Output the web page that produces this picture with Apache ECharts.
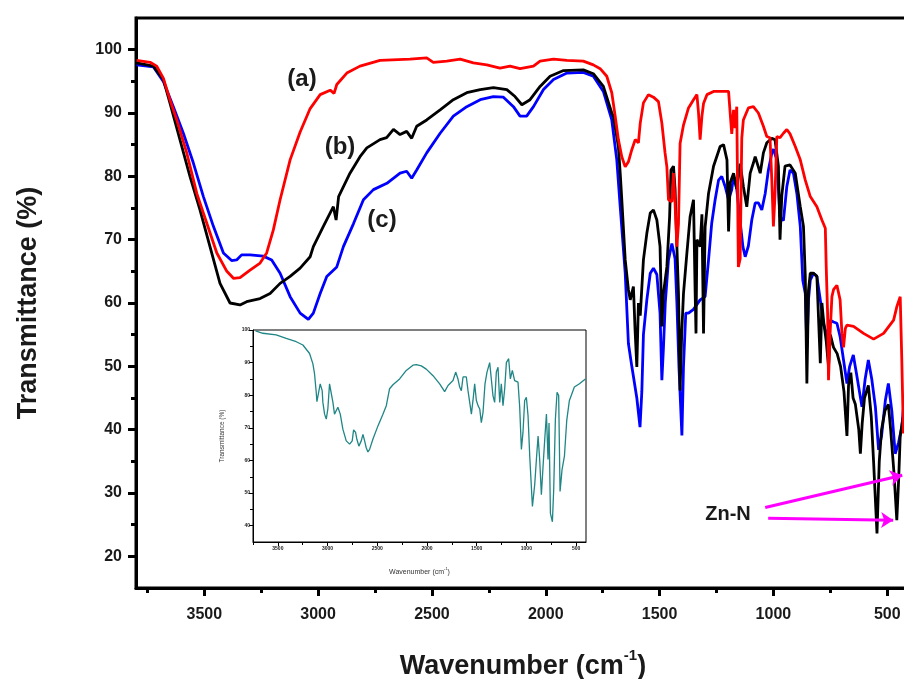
<!DOCTYPE html>
<html><head><meta charset="utf-8">
<script src="https://cdn.jsdelivr.net/npm/echarts@6/dist/echarts.min.js"></script>
<style>html,body{margin:0;padding:0;background:#fff}#c{width:904px;height:679px}</style>
</head><body><div id="c"></div><script>
const seriesA = [[3797,98.3],[3738,98],[3709,97.4],[3680,95.5],[3651,92.1],[3621,88.9],[3577,83.7],[3533,77.3],[3489,72.6],[3445,67.9],[3401,65],[3372,63.9],[3343,64],[3299,65.2],[3255,66.3],[3226,67.9],[3197,71.5],[3167,76.3],[3123,82.6],[3079,87],[3035,90.7],[2991,92.9],[2947,93.6],[2930,93.1],[2918,94.5],[2874,96.3],[2816,97.4],[2728,98.3],[2596,98.5],[2523,98.7],[2494,98],[2435,98.2],[2376,98.5],[2318,97.9],[2259,97.6],[2201,97.1],[2157,97.4],[2113,97],[2054,97.4],[2025,98.2],[1966,98.5],[1907,98.3],[1835,98.2],[1791,97.6],[1761,97],[1732,95.8],[1710,93.2],[1695,89.5],[1681,85.8],[1666,83.1],[1651,81.5],[1637,82.3],[1622,84.2],[1607,85.8],[1593,85.3],[1585,88.4],[1571,91.6],[1549,92.9],[1527,92.5],[1505,91.8],[1490,88.4],[1476,83.7],[1468,81.5],[1461,76.3],[1446,76],[1439,80.5],[1432,75.8],[1424,68.9],[1417,72.5],[1410,85.2],[1395,88.1],[1373,90.8],[1351,92.1],[1336,92.9],[1329,90],[1322,85.8],[1314,89.5],[1307,91.5],[1292,92.9],[1263,93.4],[1197,93.4],[1190,90],[1183,86.7],[1175,90.5],[1168,87.6],[1161,91],[1154,65.7],[1146,67],[1139,86],[1132,88.9],[1110,90.8],[1088,91],[1066,90],[1044,87.9],[1029,86.3],[1015,86.1],[1007,79.4],[1000,72.1],[993,77],[985,86.3],[971,86.1],[956,86.8],[941,87.4],[927,86.7],[904,84.7],[882,82.6],[860,79.4],[838,76.8],[809,75.2],[787,73.1],[772,71.8],[768,65.7],[762,58.4],[758,47.8],[751,55.2],[743,61],[736,62.1],[721,62.8],[707,60.5],[699,55.2],[692,53],[684,56],[677,56.5],[648,56.3],[604,55.2],[560,54.3],[516,55.2],[472,57.3],[458,59.4],[443,61],[436,51],[429,39.4]];
const seriesB = [[3797,97.9],[3724,97.4],[3680,95.3],[3651,91.6],[3607,85.8],[3563,80],[3519,74.7],[3475,68.9],[3431,63.1],[3387,60],[3343,59.7],[3314,60.2],[3255,60.7],[3211,61.5],[3167,63.1],[3123,64.2],[3079,65.5],[3035,67.3],[3021,68.9],[2977,72.1],[2933,75.2],[2921,73.1],[2910,76.8],[2860,80.5],[2816,83.1],[2786,84.5],[2728,85.8],[2699,86.1],[2669,87.4],[2640,86.6],[2611,87.1],[2589,86],[2567,87.9],[2523,88.9],[2464,90.5],[2406,92.1],[2347,93.2],[2288,93.7],[2230,94],[2171,93.7],[2135,92.6],[2105,91.3],[2069,92.1],[2025,94.2],[1981,95.8],[1922,96.7],[1835,96.8],[1791,96.2],[1747,94.2],[1710,90],[1703,89.5],[1681,84.7],[1673,80.5],[1666,76.3],[1651,66.8],[1637,62.1],[1629,60.5],[1615,62.6],[1608,56],[1600,49.9],[1593,60],[1585,58],[1571,66.8],[1556,71],[1541,74.2],[1527,74.7],[1512,73.1],[1498,68.9],[1490,56.3],[1483,61.5],[1468,65.7],[1456,73.6],[1450,81],[1439,81.6],[1432,78],[1424,68.9],[1417,61.5],[1410,46.2],[1403,55],[1395,61.5],[1380,67.9],[1366,73.6],[1351,76.3],[1344,62],[1340,55.2],[1336,70],[1322,68.9],[1314,74],[1307,55.2],[1300,72],[1285,77.3],[1263,81.6],[1234,84.7],[1219,85],[1204,82.6],[1197,71.3],[1190,79],[1175,80.5],[1161,78],[1146,82],[1132,78.4],[1117,75.2],[1102,80.5],[1088,82.1],[1080,83.1],[1073,82.8],[1058,80.5],[1044,83.7],[1029,85.3],[1007,86],[993,85.8],[978,81.6],[971,70],[963,77],[949,81.6],[927,81.8],[904,80.5],[882,75.2],[868,72.1],[860,64.2],[853,47.3],[846,62],[838,64.7],[824,64.7],[809,64.2],[794,50.5],[787,60],[780,57.3],[768,54],[758,50],[750,55],[736,53],[720,52],[705,50],[690,46],[677,39],[670,47],[660,49],[650,45],[640,44],[625,40],[618,36.2],[610,41],[600,45],[583,47],[570,42],[560,35],[545,23.6],[535,35],[525,40],[510,43],[495,44],[485,40],[470,33],[458,25.7],[450,32],[443,39],[430,42]];
const seriesC = [[3797,97.6],[3724,97.3],[3680,95],[3636,91],[3592,86.8],[3548,82.1],[3504,76.8],[3460,72.1],[3416,67.9],[3380,66.7],[3358,66.8],[3336,67.6],[3299,67.6],[3241,67.4],[3204,66.8],[3167,64.7],[3123,61],[3079,58.4],[3043,57.4],[3021,58.4],[2991,61.5],[2962,64.2],[2918,65.7],[2889,68.9],[2845,72.5],[2801,76.3],[2757,77.9],[2698,78.9],[2640,80.5],[2611,80.8],[2589,79.7],[2567,81],[2523,83.7],[2464,86.8],[2406,89.5],[2347,91],[2288,92.1],[2230,92.6],[2186,92.5],[2142,91],[2113,89.5],[2084,89.5],[2054,91],[2010,93.7],[1966,95.3],[1907,96.3],[1835,96.4],[1791,95.8],[1747,93.4],[1710,88.9],[1688,82.6],[1673,75.2],[1666,75],[1651,64.7],[1637,53.6],[1622,50],[1600,45],[1586,40.4],[1578,46],[1571,55],[1556,60.5],[1541,64.7],[1527,65.5],[1512,64.5],[1498,58.4],[1490,47.8],[1483,53],[1475,60],[1461,66.8],[1446,69.4],[1432,67],[1424,60],[1415,50],[1402,39.1],[1395,50],[1385,58.4],[1373,58.4],[1351,59],[1322,60.5],[1300,61],[1285,66.8],[1271,72.6],[1256,76.3],[1241,79.4],[1227,80],[1212,78.4],[1197,76.3],[1183,77.9],[1175,80],[1161,78],[1149,73.8],[1134,68.9],[1124,67.3],[1110,69],[1095,73.1],[1080,75.8],[1066,75.8],[1051,74.7],[1036,77.3],[1022,81],[1007,83.7],[1000,84.3],[985,82.6],[971,73.6],[956,73],[941,78.4],[927,81],[912,80.5],[897,77.3],[882,72.1],[871,63.6],[860,61.5],[853,53],[846,60.5],[838,63.6],[824,64.7],[809,64.2],[794,60.5],[780,56.7],[765,54.8],[750,57.3],[736,57],[721,56.8],[707,54.7],[692,51],[677,47.3],[665,50],[649,51.8],[633,48.4],[611,43.6],[597,48],[583,51],[568,48],[552,43.6],[538,36.8],[525,39],[508,44.7],[495,47.3],[480,43],[465,36.2],[450,38],[436,40.4],[425,45]];
const insetData = [[3725,99.7],[3651,99],[3517,98.5],[3416,97.4],[3315,96.4],[3248,95.4],[3181,92.8],[3148,89.7],[3131,86.6],[3114,80.9],[3107,78],[3090,78],[3074,83.5],[3054,81.4],[3047,77.8],[3030,74.2],[3013,72.7],[2997,75.8],[2980,83.5],[2963,83],[2946,77.8],[2930,74.2],[2913,74.7],[2896,76.3],[2879,76.3],[2872,74.2],[2846,69.6],[2812,66],[2778,65],[2752,66],[2738,69.4],[2718,68.6],[2705,66.5],[2685,64.4],[2661,66],[2644,68],[2627,66],[2611,63.9],[2594,62.6],[2577,63.4],[2544,66.5],[2493,70.6],[2443,74.2],[2409,76.8],[2376,82],[2342,83.2],[2275,85],[2208,87.6],[2141,89.2],[2107,89.4],[2057,89],[2007,88],[1939,86],[1872,83.5],[1822,81.1],[1788,83],[1738,84.5],[1711,87.1],[1688,85],[1671,82.5],[1654,81.4],[1637,85.6],[1604,85.6],[1587,81.4],[1570,77.8],[1553,74.2],[1537,78.4],[1520,83.5],[1503,78.4],[1486,76.8],[1469,75.8],[1453,71.6],[1436,74.7],[1416,83.5],[1396,87.1],[1369,90],[1352,89.4],[1336,79.9],[1319,77.8],[1302,87.1],[1285,88.6],[1268,77.8],[1252,83.5],[1235,76.8],[1218,82],[1201,90],[1178,91.2],[1161,85],[1141,87.6],[1118,84.5],[1084,84],[1067,76.3],[1050,63.4],[1034,68.6],[1017,78.4],[1000,79.4],[983,73.7],[966,61.3],[939,45.9],[916,52.6],[899,60.3],[882,67.5],[866,60.3],[849,49.5],[832,58.2],[815,66.5],[798,74.2],[782,60.3],[772,71.5],[758,43.8],[738,41.2],[725,51],[708,72.7],[691,80.9],[675,79.9],[661,50.5],[641,57.2],[617,61.3],[594,72.2],[567,78.4],[517,82.5],[466,83.5],[406,85]];
const xTicks = [3500,3000,2500,2000,1500,1000,500];
const xMinor = [3750,3250,2750,2250,1750,1250,750];
const yTicks = [20,30,40,50,60,70,80,90,100];
const yMinor = [25,35,45,55,65,75,85,95];
const insetYTicks = [40,50,60,70,80,90,100];
const insetYMinor = [45,55,65,75,85,95];
const arrows = [[[1036,27.7],[434,32.8]],[[1023,26],[474,25.7]]];

const FONT = '"Liberation Sans", Arial, sans-serif';
const chart = echarts.init(document.getElementById('c'), null, {renderer:'canvas'});
const plain = v => String(v);

function xAx(grid, min, max, ticks, len, w, lblSize, lblShow, lineShow, margin, extra) {
  return Object.assign({
    type:'value', gridIndex:grid, inverse:true, min:min, max:max, position:'bottom',
    axisLine:{show:lineShow, onZero:false, lineStyle:{color:'#000', width:w}},
    axisTick:{show:true, inside:false, length:len, customValues:ticks, lineStyle:{color:'#000', width:w}},
    axisLabel:{show:lblShow, customValues:ticks, formatter:plain, fontFamily:FONT, fontWeight:'bold', fontSize:lblSize, color:'#1a1a1a', margin:margin},
    splitLine:{show:false}
  }, extra||{});
}
function yAx(grid, min, max, ticks, len, w, lblSize, lblShow, lineShow, margin, extra) {
  return Object.assign({
    type:'value', gridIndex:grid, min:min, max:max, position:'left',
    axisLine:{show:lineShow, onZero:false, lineStyle:{color:'#000', width:w}},
    axisTick:{show:true, inside:false, length:len, customValues:ticks, lineStyle:{color:'#000', width:w}},
    axisLabel:{show:lblShow, customValues:ticks, formatter:plain, fontFamily:FONT, fontWeight:'bold', fontSize:lblSize, color:'#1a1a1a', margin:margin},
    splitLine:{show:false}
  }, extra||{});
}

const option = {
  animation:false,
  backgroundColor:'#fff',
  grid:[
    {left:136, top:18, right:-6, bottom:91, show:true, borderColor:'#000', borderWidth:3, backgroundColor:'transparent', outerBoundsMode:'none', containLabel:false},
    {left:253, top:330, width:333, height:212, show:true, borderColor:'#000', borderWidth:1, backgroundColor:'#fff', outerBoundsMode:'none', containLabel:false}
  ],
  xAxis:[
    xAx(0, 400, 3800, xTicks, 8, 3, 16, true, true, 19, {
      name:'{t|Wavenumber (cm}{s|-1}{t|)}', nameLocation:'middle', nameGap:60,
      nameTextStyle:{rich:{t:{fontFamily:FONT, fontWeight:'bold', fontSize:27, color:'#1a1a1a', lineHeight:32, verticalAlign:'bottom'}, s:{fontFamily:FONT, fontWeight:'bold', fontSize:15, color:'#1a1a1a', verticalAlign:'top', lineHeight:32}}}
    }),
    xAx(0, 400, 3800, xMinor, 5, 3, 16, false, false, 19),
    xAx(1, 400, 3750, xTicks, 4, 1, 5, true, true, 4, {
      name:'{t|Wavenumber (cm}{s|-1}{t|)}', nameLocation:'middle', nameGap:25,
      nameTextStyle:{rich:{t:{fontFamily:FONT, fontSize:7, color:'#333', lineHeight:9, verticalAlign:'bottom'}, s:{fontFamily:FONT, fontSize:4, color:'#333', verticalAlign:'top', lineHeight:9}}}
    }),
    xAx(1, 400, 3750, xMinor, 3, 1, 5, false, false, 4)
  ],
  yAxis:[
    yAx(0, 15, 105, yTicks, 8, 3, 16, true, true, 14, {
      name:'Transmittance (%)', nameLocation:'middle', nameGap:94,
      nameTextStyle:{fontFamily:FONT, fontWeight:'bold', fontSize:27, color:'#1a1a1a'}
    }),
    yAx(0, 15, 105, yMinor, 5, 3, 16, false, false, 14),
    yAx(1, 35, 100, insetYTicks, 4, 1, 5, true, true, 3, {
      name:'Transmittance (%)', nameLocation:'middle', nameGap:27,
      nameTextStyle:{fontFamily:FONT, fontSize:6.5, color:'#333'}
    }),
    yAx(1, 35, 100, insetYMinor, 3, 1, 5, false, false, 3)
  ],
  series:[
    {type:'line', name:'(c)', xAxisIndex:0, yAxisIndex:0, data:seriesC, symbol:'none', lineStyle:{color:'#0000ff', width:2.8}, z:3},
    {type:'line', name:'(b)', xAxisIndex:0, yAxisIndex:0, data:seriesB, symbol:'none', lineStyle:{color:'#000000', width:2.8}, z:4},
    {type:'line', name:'(a)', xAxisIndex:0, yAxisIndex:0, data:seriesA, symbol:'none', lineStyle:{color:'#ff0000', width:2.8}, z:5,
      markLine:{silent:true, symbol:['none','arrow'], symbolSize:12, label:{show:false},
        lineStyle:{color:'#ff00ff', width:3, type:'solid'},
        data: arrows.map(a => [{coord:a[0], symbol:'none'},{coord:a[1], symbol:'arrow', symbolSize:12}])}},
    {type:'line', name:'inset', xAxisIndex:2, yAxisIndex:2, data:insetData, symbol:'none', lineStyle:{color:'#1f8585', width:1.3}, z:6}
  ],
  graphic:[
    {type:'text', x:302, y:79, style:{text:'(a)', font:'bold 24px '+FONT, fill:'#1a1a1a', align:'center', verticalAlign:'middle'}},
    {type:'text', x:340, y:147, style:{text:'(b)', font:'bold 24px '+FONT, fill:'#1a1a1a', align:'center', verticalAlign:'middle'}},
    {type:'text', x:382, y:220, style:{text:'(c)', font:'bold 24px '+FONT, fill:'#1a1a1a', align:'center', verticalAlign:'middle'}},
    {type:'text', x:728, y:514, style:{text:'Zn-N', font:'bold 20px '+FONT, fill:'#1a1a1a', align:'center', verticalAlign:'middle'}}
  ]
};
chart.setOption(option);
</script></body></html>
